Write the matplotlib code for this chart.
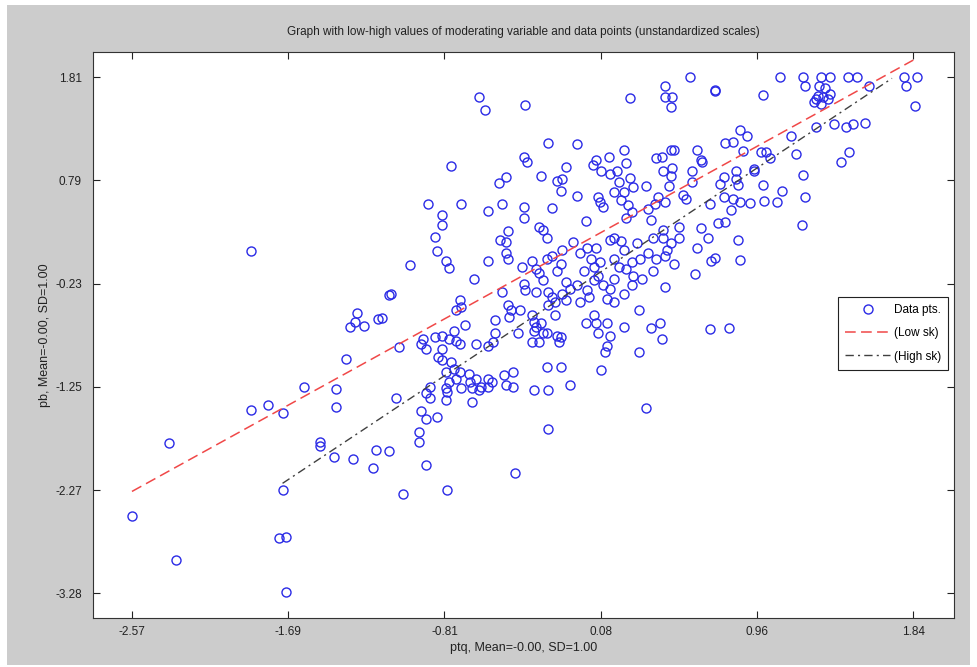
import numpy as np
import matplotlib.pyplot as plt
from matplotlib.patches import Rectangle

# data points (ptq, pb)
pts_upper = np.array([
    (-0.61, 1.62), (-0.58, 1.49), (-0.35, 1.54), (0.24, 1.61), (-0.22, 1.16), (-0.06, 1.15),
    (-0.77, 0.93), (-0.36, 1.02), (-0.34, 0.97), (-0.26, 0.84), (-0.12, 0.92), (-0.17, 0.79),
    (-0.14, 0.81), (-0.15, 0.69), (0.03, 0.94), (0.05, 0.99), (0.12, 1.02), (0.21, 1.09),
    (0.22, 0.96), (0.08, 0.88), (0.13, 0.86), (0.17, 0.88), (0.18, 0.78), (0.24, 0.82),
    (0.26, 0.73), (0.21, 0.68), (0.33, 0.74), (0.39, 1.01), (-0.06, 0.64), (0.06, 0.63),
    (0.07, 0.58), (0.09, 0.53), (0.15, 0.68), (0.19, 0.60), (0.23, 0.55), (0.25, 0.48),
    (0.22, 0.42), (0.34, 0.51), (0.40, 0.63), (0.38, 0.56), (-0.90, 0.56), (-0.71, 0.56),
    (-0.82, 0.45), (-0.82, 0.35), (-0.56, 0.49), (-0.50, 0.77), (-0.46, 0.83), (-0.48, 0.56),
    (-0.36, 0.53), (-0.36, 0.42), (-0.20, 0.52), (-0.27, 0.33), (-0.25, 0.30), (-0.45, 0.29),
    (-0.01, 0.39), (0.36, 0.40),
])

pts_right = np.array([
    (0.58, 1.81), (1.09, 1.81), (1.22, 1.81), (1.23, 1.72), (1.32, 1.81), (1.37, 1.81),
    (1.47, 1.81), (1.52, 1.81), (1.79, 1.81), (1.86, 1.81), (1.80, 1.72), (1.85, 1.53),
    (1.59, 1.72), (1.31, 1.72), (1.34, 1.70), (1.30, 1.63), (1.33, 1.62), (1.37, 1.65),
    (1.28, 1.57), (1.32, 1.55), (1.36, 1.60), (1.29, 1.60), (0.44, 1.72), (0.44, 1.62),
    (0.48, 1.62), (0.47, 1.52), (0.72, 1.68), (0.72, 1.67), (0.99, 1.64), (0.86, 1.29),
    (0.90, 1.23), (0.78, 1.16), (0.82, 1.17), (0.88, 1.08), (0.98, 1.07), (1.01, 1.07),
    (1.03, 1.01), (1.15, 1.23), (1.29, 1.32), (1.39, 1.35), (1.46, 1.32), (1.50, 1.35),
    (1.57, 1.36), (1.18, 1.05), (1.48, 1.07), (1.43, 0.97), (1.22, 0.85), (1.23, 0.63),
    (1.21, 0.35), (0.94, 0.90), (0.94, 0.88), (0.99, 0.75), (1.10, 0.69), (1.07, 0.58),
    (1.00, 0.59), (0.92, 0.57), (0.86, 0.58), (0.82, 0.61), (0.77, 0.63), (0.69, 0.56),
    (0.81, 0.50), (0.78, 0.38), (0.74, 0.37), (0.64, 0.32), (0.75, 0.76), (0.77, 0.83),
    (0.84, 0.88), (0.84, 0.81), (0.85, 0.75), (0.59, 0.88), (0.62, 1.09), (0.64, 0.99),
    (0.65, 0.97), (0.59, 0.78), (0.54, 0.65), (0.56, 0.61), (0.46, 0.74), (0.44, 0.58),
    (0.42, 1.02), (0.47, 1.09), (0.49, 1.09), (0.48, 0.91), (0.47, 0.84), (0.43, 0.88),
    (0.43, 0.30), (0.52, 0.33),
    (0.43, 0.22), (0.47, 0.17), (0.52, 0.22), (0.45, 0.10), (0.44, 0.05), (0.62, 0.12),
    (0.68, 0.22), (0.85, 0.20), (0.86, 0.01), (0.70, 0.00), (0.72, 0.03), (0.61, -0.13),
    (0.49, -0.03), (0.44, -0.26), (0.69, -0.68), (0.80, -0.67), (0.41, -0.62), (0.42, -0.77),
])

pts_middle = np.array([
    (-0.86, 0.23), (-0.49, 0.20), (-0.46, 0.18), (-0.23, 0.22), (-0.08, 0.18), (0.13, 0.20),
    (0.15, 0.22), (0.19, 0.19), (0.28, 0.17), (0.37, 0.22), (-0.85, 0.09), (-0.80, 0.00),
    (-0.78, -0.07), (-1.00, -0.04), (-0.56, 0.00), (-0.46, 0.07), (-0.45, 0.02), (-0.37, -0.06),
    (-0.31, 0.00), (-0.29, -0.08), (-0.27, -0.12), (-0.23, 0.02), (-0.20, 0.05), (-0.14, 0.10),
    (-0.15, -0.03), (-0.17, -0.10), (-0.04, 0.07), (0.00, 0.12), (0.05, 0.12), (0.02, 0.02),
    (0.07, -0.01), (-0.02, -0.10), (0.04, -0.06), (0.06, -0.15), (0.15, 0.02), (0.18, -0.06),
    (0.21, 0.10), (0.22, -0.08), (0.25, -0.01), (0.26, -0.15), (0.30, 0.02), (0.34, 0.07),
    (0.39, 0.02), (0.37, -0.10), (0.31, -0.18), (0.25, -0.24), (0.21, -0.33), (0.15, -0.18),
    (0.13, -0.28), (0.09, -0.24), (0.04, -0.19), (0.00, -0.29), (-0.06, -0.24), (-0.10, -0.28),
    (-0.12, -0.21), (-0.14, -0.33), (-0.20, -0.36), (-0.22, -0.31), (-0.25, -0.19), (-0.29, -0.31),
    (-0.36, -0.23), (-0.35, -0.29), (-0.48, -0.31), (-0.64, -0.18), (-1.11, -0.33), (-0.72, -0.39),
    (-0.71, -0.46), (-0.74, -0.49), (-0.45, -0.44), (-0.43, -0.49), (-0.38, -0.49), (-0.44, -0.56),
    (-0.31, -0.54), (-0.30, -0.61), (-0.29, -0.66), (-0.26, -0.62), (-0.25, -0.72), (-0.30, -0.70),
    (-0.31, -0.80), (-0.27, -0.80), (-0.23, -0.72), (-0.18, -0.54), (-0.17, -0.74), (-0.16, -0.80),
    (-0.15, -0.75), (-0.22, -0.44), (-0.18, -0.41), (-0.12, -0.39), (-0.04, -0.41), (0.01, -0.36),
    (0.04, -0.54), (-0.01, -0.62), (0.05, -0.62), (0.11, -0.62), (0.11, -0.38), (0.15, -0.41),
    (0.21, -0.66), (0.29, -0.49), (0.36, -0.67), (0.29, -0.90), (0.13, -0.74), (0.11, -0.84),
    (0.10, -0.90), (0.06, -0.72), (-0.52, -0.59), (-0.52, -0.72), (-0.53, -0.80), (-0.56, -0.84),
    (-0.63, -0.82), (-0.39, -0.72), (-0.69, -0.64), (-0.75, -0.70), (-0.74, -0.79), (-0.72, -0.82),
    (-0.78, -0.77), (-0.82, -0.74), (-0.86, -0.75), (-0.93, -0.77), (-0.94, -0.82), (-0.91, -0.87),
    (-0.82, -0.87), (-0.84, -0.95), (-0.82, -0.98), (-0.77, -1.00), (-0.80, -1.10), (-0.75, -1.07),
    (-0.72, -1.10), (-0.74, -1.17), (-0.78, -1.20), (-0.80, -1.26), (-0.79, -1.30), (-0.89, -1.25),
    (-0.91, -1.31), (-0.89, -1.36), (-0.80, -1.38), (-0.71, -1.26), (-0.67, -1.12), (-0.66, -1.20),
    (-0.63, -1.17), (-0.65, -1.26), (-0.61, -1.28), (-0.56, -1.17), (-0.54, -1.20), (-0.60, -1.25),
    (-0.56, -1.25), (-0.47, -1.13), (-0.42, -1.10), (-0.46, -1.23), (-0.42, -1.25), (-0.30, -1.28),
    (-0.22, -1.28), (-0.10, -1.23), (-0.23, -1.05), (-0.15, -1.05), (0.08, -1.08), (-1.08, -1.36),
    (-1.06, -0.85), (-1.16, -0.57), (-0.65, -1.40), (-0.94, -1.49), (-0.91, -1.56), (-0.85, -1.54),
    (-0.95, -1.69), (-0.22, -1.66), (0.33, -1.46),
])

pts_left = np.array([
    (-1.90, 0.09), (-1.12, -0.34), (-1.30, -0.52), (-1.34, -0.66), (-1.31, -0.61), (-1.26, -0.65),
    (-1.18, -0.58), (-1.36, -0.97), (-1.60, -1.25), (-1.42, -1.27), (-1.42, -1.45), (-1.90, -1.48),
    (-1.80, -1.43), (-1.72, -1.51),
    (-2.36, -1.80), (-2.57, -2.52), (-2.32, -2.96), (-1.72, -2.27), (-1.74, -2.74), (-1.70, -2.73),
    (-1.70, -3.27), (-1.51, -1.79), (-1.51, -1.83), (-1.43, -1.94), (-1.32, -1.96), (-1.21, -2.05),
    (-1.19, -1.87), (-1.12, -1.88),
    (-0.95, -1.79), (-0.91, -2.02), (-1.04, -2.31), (-0.79, -2.27), (-0.41, -2.10),
])

low_x = [-2.57, 1.84]
low_y = [-2.28, 1.98]
high_x = [-1.72, 1.72]
high_y = [-2.20, 1.80]

xticks = [-2.57, -1.688, -0.806, 0.076, 0.958, 1.84]
xticklabels = ['-2.57', '-1.69', '-0.81', '0.08', '0.96', '1.84']
yticks = [1.81, 0.791, -0.228, -1.247, -2.266, -3.285]
yticklabels = ['1.81', '0.79', '-0.23', '-1.25', '-2.27', '-3.28']

plt.rcParams['font.family'] = ['Liberation Sans', 'DejaVu Sans']

pts = np.vstack([pts_upper, pts_right, pts_middle, pts_left])

fig = plt.figure(figsize=(9.77, 6.67), dpi=100, facecolor='white')
fig.add_artist(Rectangle((7 / 977, 2 / 667), 963 / 977, 660 / 667,
                         transform=fig.transFigure, facecolor='#cccccc',
                         edgecolor='none', zorder=-10))
ax = fig.add_axes([93 / 977, 49 / 667, 861 / 977, 566 / 667])
ax.set_facecolor('white')

ax.plot(pts[:, 0], pts[:, 1], 'o', mfc='none', mec='#2a2ae6', ms=6.5, mew=1.0,
        label='Data pts.', zorder=2)
ax.plot(low_x, low_y, color='#f04848', lw=1.1, dashes=(7, 3.5), label='(Low sk)', zorder=3)
ax.plot(high_x, high_y, color='#404040', lw=1.0, dashes=(6, 3, 1.5, 3),
        label='(High sk)', zorder=3)

ax.set_xlim(-2.79, 2.07)
ax.set_ylim(-3.53, 2.06)
ax.set_xticks(xticks)
ax.set_xticklabels(xticklabels)
ax.set_yticks(yticks)
ax.set_yticklabels(yticklabels)
ax.tick_params(direction='in', length=5, width=0.8, top=True, right=True,
               labelsize=8.5, colors='#222222')
ax.tick_params(axis='x', pad=6)
ax.tick_params(axis='y', pad=8)
for s in ax.spines.values():
    s.set_linewidth(0.8)
    s.set_color('#333333')

ax.set_title('Graph with low-high values of moderating variable and data points (unstandardized scales)',
             fontsize=8.5, pad=12, color='#222222')
ax.set_xlabel('ptq, Mean=-0.00, SD=1.00', fontsize=9, labelpad=3, color='#222222')
ax.set_ylabel('pb, Mean=-0.00, SD=1.00', fontsize=9, labelpad=3, color='#222222')

leg = ax.legend(loc='upper right', bbox_to_anchor=(0.993, 0.567), borderaxespad=0,
                fontsize=8.5, fancybox=False, edgecolor='#222222', framealpha=1,
                handlelength=3.8, handletextpad=0.3, labelspacing=0.95, borderpad=0.6)
leg.get_frame().set_linewidth(0.8)

fig.savefig('out.png', dpi=100, facecolor=fig.get_facecolor())
